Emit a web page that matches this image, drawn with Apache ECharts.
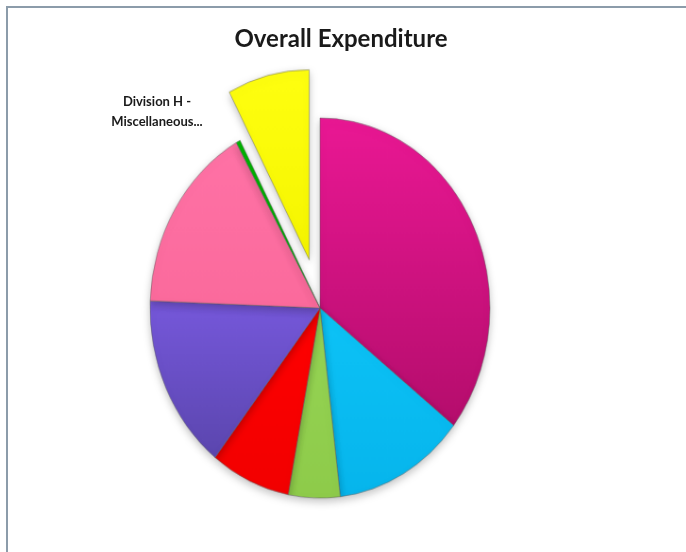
<!DOCTYPE html>
<html>
<head>
<meta charset="utf-8">
<script src="https://cdn.jsdelivr.net/npm/echarts@6/dist/echarts.min.js"></script>
<style>
html,body{margin:0;padding:0;background:#fff;}
#wrap{position:relative;width:686px;height:552px;overflow:hidden;}
#chart,#pie{position:absolute;left:0;top:0;width:686px;height:552px;}
#pie{transform-origin:320px 308px;transform:scale(0.944,1.056);}
</style>
</head>
<body>
<div id="wrap">
<div id="chart"></div>
<div id="pie"></div>
</div>
<script>
// Data (percent share of overall expenditure)
var categories = ['Division A', 'Division B', 'Division C', 'Division D', 'Division E', 'Division F', 'Division G', 'Division H - Miscellaneous...'];
var values = [35.6, 12.5, 4.9, 7.6, 15.0, 16.2, 0.4, 7.8];
var colorsTop = ['#EA1894', '#0DC3F7', '#96D555', '#FF0000', '#7658DB', '#FF72A6', '#00B400', '#FFFF10'];
var colorsBottom = ['#B40D6C', '#06B5EC', '#8ECB4A', '#F20000', '#5B46AE', '#FB6A9C', '#00A000', '#F5F500'];
var explodedIndex = 7;
var explodedLabel = 'Division H -\nMiscellaneous...';
var titleText = 'Overall Expenditure';

var chart = echarts.init(document.getElementById('chart'), null, {renderer: 'canvas'});
var pie = echarts.init(document.getElementById('pie'), null, {renderer: 'canvas'});

var data = categories.map(function (c, i) {
  return {
    name: c,
    value: values[i],
    selected: i === explodedIndex,
    itemStyle: {
      color: new echarts.graphic.LinearGradient(0, 0, 0, 1, [
        {offset: 0, color: colorsTop[i]},
        {offset: 1, color: colorsBottom[i]}
      ])
    }
  };
});

chart.setOption({
  animation: false,
  backgroundColor: '#fff',
  title: {
    text: titleText,
    left: 336,
    textAlign: 'center',
    top: 22,
    textStyle: {fontFamily: 'Lato', fontWeight: 'bold', fontSize: 24, color: '#1a1a1a'}
  },
  graphic: [{
    type: 'rect',
    shape: {x: 7, y: 7, width: 700, height: 600},
    style: {fill: 'none', stroke: '#8C9CAA', lineWidth: 2},
    silent: true
  }, {
    type: 'text',
    x: 157,
    y: 112,
    silent: true,
    style: {
      text: explodedLabel,
      align: 'center',
      verticalAlign: 'middle',
      fontFamily: 'Lato',
      fontWeight: 'bold',
      fontSize: 13,
      lineHeight: 20,
      fill: '#1a1a1a'
    }
  }]
});

pie.setOption({
  animation: false,
  series: [{
    type: 'pie',
    center: [320, 308],
    radius: [0, 180],
    startAngle: 90,
    clockwise: true,
    selectedMode: 'single',
    selectedOffset: 47,
    avoidLabelOverlap: false,
    itemStyle: {
      borderColor: 'rgba(90,90,90,0.45)',
      borderWidth: 1,
      shadowBlur: 8,
      shadowColor: 'rgba(0,0,0,0.25)',
      shadowOffsetY: 3
    },
    label: {show: false},
    labelLine: {show: false},
    emphasis: {disabled: true},
    data: data
  }]
});
</script>
</body>
</html>
